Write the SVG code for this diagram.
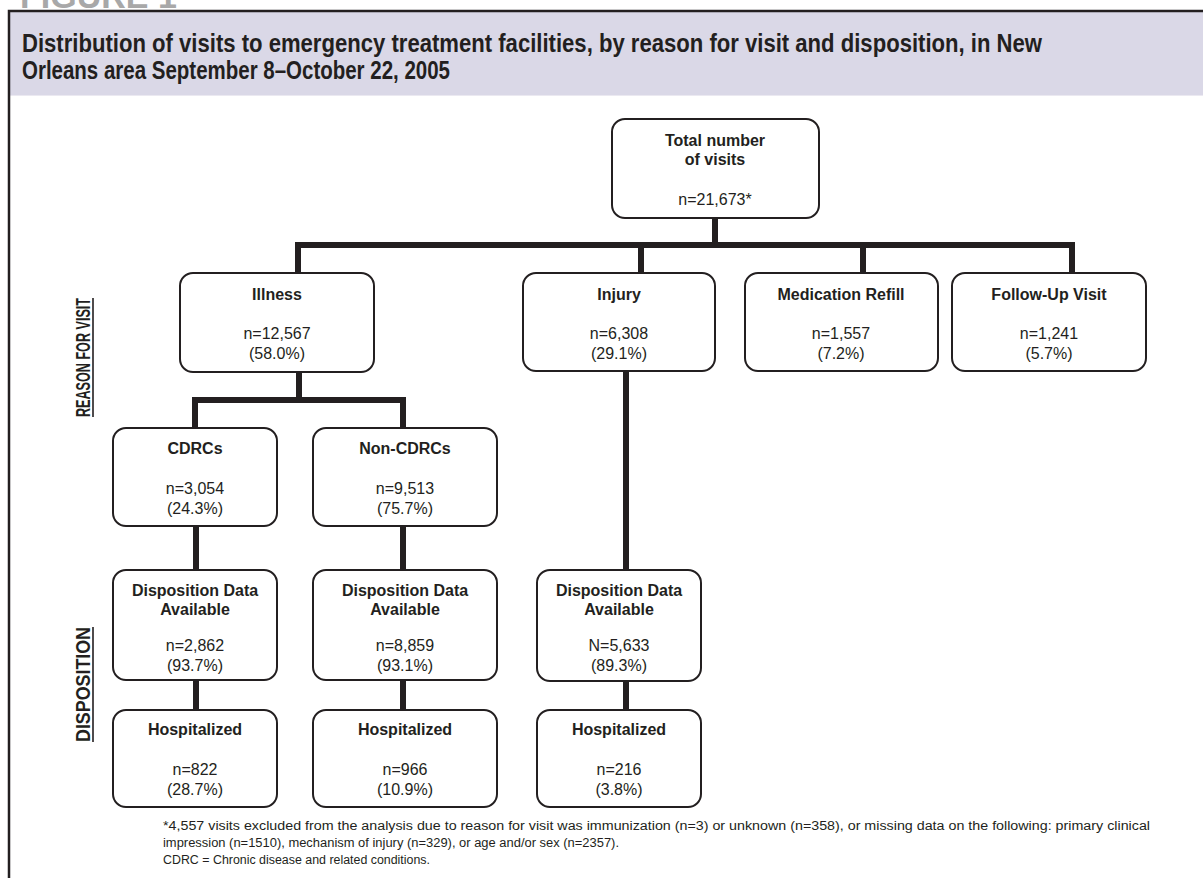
<svg xmlns="http://www.w3.org/2000/svg" width="1203" height="878" viewBox="0 0 1203 878">
<style>
.box{fill:#fff;stroke:#231f20;stroke-width:2}
.conn{fill:none;stroke:#231f20;stroke-width:6;stroke-linejoin:miter;stroke-linecap:butt}
.t{font-family:"Liberation Sans",Arial,sans-serif;font-size:16px;fill:#231f20;text-anchor:middle}
.b{font-weight:bold}
.title{font-family:"Liberation Sans",Arial,sans-serif;font-weight:bold;font-size:25px;fill:#231f20}
.side{font-family:"Liberation Sans",Arial,sans-serif;font-weight:bold;font-size:21px;fill:#231f20;text-anchor:middle}
.foot{font-family:"Liberation Sans",Arial,sans-serif;font-size:12.5px;fill:#231f20}
</style>
<rect x="0" y="0" width="1203" height="878" fill="#fff"/>
<text x="20" y="8" font-family="Liberation Sans,Arial,sans-serif" font-weight="bold" font-size="34" fill="#a8a8a8">FIGURE 1</text>
<rect x="9" y="12" width="1194" height="83" fill="#dad8e7"/>
<line x1="9" y1="95.5" x2="1203" y2="95.5" stroke="#ebe9f1" stroke-width="1"/>
<path d="M9,878 V11 H1203" fill="none" stroke="#231f20" stroke-width="2.5"/>
<text class="title" x="22" y="52" textLength="1020" lengthAdjust="spacingAndGlyphs">Distribution of visits to emergency treatment facilities, by reason for visit and disposition, in New</text>
<text class="title" x="22" y="79" textLength="428" lengthAdjust="spacingAndGlyphs">Orleans area September 8–October 22, 2005</text>

<g id="side-labels">
<text class="side" transform="translate(90,357.5) rotate(-90)" textLength="119" lengthAdjust="spacingAndGlyphs">REASON FOR VISIT</text>
<line x1="93" y1="298" x2="93" y2="417" stroke="#231f20" stroke-width="1.6"/>
<text class="side" transform="translate(90,684.5) rotate(-90)" textLength="115" lengthAdjust="spacingAndGlyphs">DISPOSITION</text>
<line x1="93" y1="627" x2="93" y2="742" stroke="#231f20" stroke-width="1.6"/>
</g>

<g id="connectors">
<path class="conn" d="M715,218 V245 M298,273 V245 H1072 V273 M641,245 V273 M863,245 V273"/>
<path class="conn" d="M299,372 V400 M195,428 V400 H403 V428"/>
<path class="conn" d="M196,526 V570 M403,526 V570 M626,371 V570"/>
<path class="conn" d="M196,680 V710 M403,680 V710 M626,680 V710"/>
</g>

<g id="total">
<rect class="box" x="612" y="119" width="207" height="99" rx="13"/>
<text class="t b" x="715" y="146">Total number</text>
<text class="t b" x="715" y="165">of visits</text>
<text class="t" x="715" y="205">n=21,673*</text>
</g>
<g id="illness">
<rect class="box" x="180" y="273" width="194" height="99" rx="13"/>
<text class="t b" x="277" y="300">Illness</text>
<text class="t" x="277" y="339">n=12,567</text>
<text class="t" x="277" y="359">(58.0%)</text>
</g>
<g id="injury">
<rect class="box" x="523" y="273" width="192" height="98" rx="13"/>
<text class="t b" x="619" y="300">Injury</text>
<text class="t" x="619" y="339">n=6,308</text>
<text class="t" x="619" y="359">(29.1%)</text>
</g>
<g id="medication-refill">
<rect class="box" x="745" y="273" width="193" height="98" rx="13"/>
<text class="t b" x="841" y="300">Medication Refill</text>
<text class="t" x="841" y="339">n=1,557</text>
<text class="t" x="841" y="359">(7.2%)</text>
</g>
<g id="follow-up">
<rect class="box" x="952" y="273" width="194" height="98" rx="13"/>
<text class="t b" x="1049" y="300">Follow-Up Visit</text>
<text class="t" x="1049" y="339">n=1,241</text>
<text class="t" x="1049" y="359">(5.7%)</text>
</g>
<g id="cdrcs">
<rect class="box" x="113" y="428" width="164" height="98" rx="13"/>
<text class="t b" x="195" y="454">CDRCs</text>
<text class="t" x="195" y="494">n=3,054</text>
<text class="t" x="195" y="514">(24.3%)</text>
</g>
<g id="non-cdrcs">
<rect class="box" x="313" y="428" width="184" height="98" rx="13"/>
<text class="t b" x="405" y="454">Non-CDRCs</text>
<text class="t" x="405" y="494">n=9,513</text>
<text class="t" x="405" y="514">(75.7%)</text>
</g>
<g id="disp-cdrcs">
<rect class="box" x="113" y="570" width="164" height="110" rx="13"/>
<text class="t b" x="195" y="596">Disposition Data</text>
<text class="t b" x="195" y="615">Available</text>
<text class="t" x="195" y="651">n=2,862</text>
<text class="t" x="195" y="671">(93.7%)</text>
</g>
<g id="disp-non-cdrcs">
<rect class="box" x="313" y="570" width="184" height="110" rx="13"/>
<text class="t b" x="405" y="596">Disposition Data</text>
<text class="t b" x="405" y="615">Available</text>
<text class="t" x="405" y="651">n=8,859</text>
<text class="t" x="405" y="671">(93.1%)</text>
</g>
<g id="disp-injury">
<rect class="box" x="537" y="570" width="164" height="111" rx="13"/>
<text class="t b" x="619" y="596">Disposition Data</text>
<text class="t b" x="619" y="615">Available</text>
<text class="t" x="619" y="651">N=5,633</text>
<text class="t" x="619" y="671">(89.3%)</text>
</g>
<g id="hosp-cdrcs">
<rect class="box" x="113" y="710" width="164" height="97" rx="13"/>
<text class="t b" x="195" y="735">Hospitalized</text>
<text class="t" x="195" y="775">n=822</text>
<text class="t" x="195" y="795">(28.7%)</text>
</g>
<g id="hosp-non-cdrcs">
<rect class="box" x="313" y="710" width="184" height="97" rx="13"/>
<text class="t b" x="405" y="735">Hospitalized</text>
<text class="t" x="405" y="775">n=966</text>
<text class="t" x="405" y="795">(10.9%)</text>
</g>
<g id="hosp-injury">
<rect class="box" x="537" y="710" width="164" height="97" rx="13"/>
<text class="t b" x="619" y="735">Hospitalized</text>
<text class="t" x="619" y="775">n=216</text>
<text class="t" x="619" y="795">(3.8%)</text>
</g>

<g id="footnote">
<text class="foot" x="163" y="830" textLength="987" lengthAdjust="spacingAndGlyphs">*4,557 visits excluded from the analysis due to reason for visit was immunization (n=3) or unknown (n=358), or missing data on the following:   primary clinical</text>
<text class="foot" x="163" y="847" textLength="456" lengthAdjust="spacingAndGlyphs">impression (n=1510), mechanism of injury (n=329), or age and/or sex (n=2357).</text>
<text class="foot" x="163" y="864" textLength="267" lengthAdjust="spacingAndGlyphs">CDRC = Chronic disease and related conditions.</text>
</g>
</svg>
